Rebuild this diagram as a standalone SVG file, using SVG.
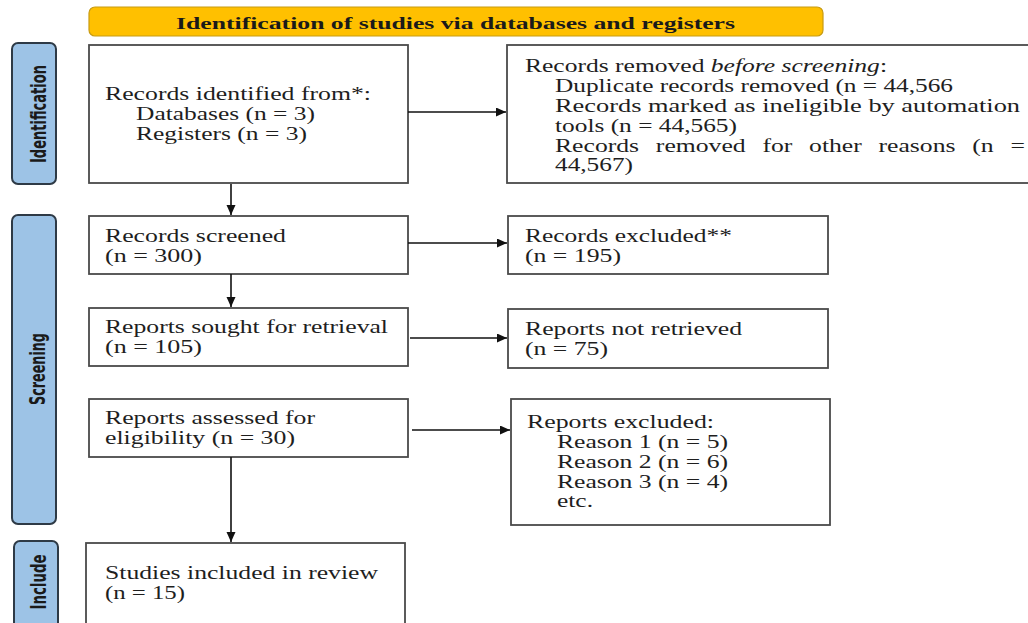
<svg xmlns="http://www.w3.org/2000/svg" width="1028" height="623" viewBox="0 0 1028 623">
<style>
.bg{fill:#ffffff}
.box{fill:#ffffff;stroke:#4a4a4a;stroke-width:1.8}
.side{fill:#9DC3E6;stroke:#2E3A46;stroke-width:2}
.hdr{fill:#FFC000;stroke:#C89B12;stroke-width:1.2}
.t{font-family:"Liberation Serif","Times New Roman",serif;font-size:18.6px;fill:#1e1e1e}
.h{font-family:"Liberation Serif","Times New Roman",serif;font-size:17.5px;font-weight:bold;fill:#1a1a1a}
.s{font-family:"Liberation Sans Narrow","DejaVu Sans Condensed","Liberation Sans",sans-serif;font-size:22px;font-weight:bold;fill:#1a1a1a}
.c{fill:none;stroke:#111;stroke-width:1.6}
</style>
<defs>
<marker id="ah" markerUnits="userSpaceOnUse" markerWidth="11" markerHeight="10" refX="10" refY="4.5" orient="auto">
<path d="M0,0 L10,4.5 L0,9 z" fill="#111"/>
</marker>
</defs>
<rect class="bg" x="0" y="0" width="1028" height="623"/>

<g id="header">
<rect class="hdr" x="89" y="7" width="734" height="29" rx="6"/>
<text class="h" x="176" y="29" textLength="559" lengthAdjust="spacingAndGlyphs">Identification of studies via databases and registers</text>
</g>

<g id="side_identification">
<rect class="side" x="12" y="43" width="44" height="141" rx="6"/>
<text class="s" transform="translate(46,114) rotate(-90)" text-anchor="middle" textLength="98" lengthAdjust="spacingAndGlyphs">Identification</text>
</g>
<g id="side_screening">
<rect class="side" x="12" y="215" width="44" height="309" rx="6"/>
<text class="s" transform="translate(45,369) rotate(-90)" text-anchor="middle" textLength="72" lengthAdjust="spacingAndGlyphs">Screening</text>
</g>
<g id="side_include">
<rect class="side" x="14" y="541" width="44" height="100" rx="6"/>
<text class="s" transform="translate(46,582) rotate(-90)" text-anchor="middle" textLength="55" lengthAdjust="spacingAndGlyphs">Include</text>
</g>

<g id="records_identified">
<rect class="box" x="89" y="45" width="319" height="138"/>
<text class="t" x="105" y="100" textLength="266" lengthAdjust="spacingAndGlyphs">Records identified from*:</text>
<text class="t" x="136" y="120" textLength="179" lengthAdjust="spacingAndGlyphs">Databases (n = 3)</text>
<text class="t" x="136" y="140" textLength="171" lengthAdjust="spacingAndGlyphs">Registers (n = 3)</text>
</g>

<g id="records_removed">
<rect class="box" x="507" y="45" width="540" height="138"/>
<text class="t" x="525" y="72" textLength="362" lengthAdjust="spacingAndGlyphs">Records removed <tspan font-style="italic">before screening</tspan>:</text>
<text class="t" x="555" y="92" textLength="398" lengthAdjust="spacingAndGlyphs">Duplicate records removed (n = 44,566</text>
<text class="t" x="555" y="112" textLength="465" lengthAdjust="spacingAndGlyphs">Records marked as ineligible by automation</text>
<text class="t" x="555" y="132" textLength="182" lengthAdjust="spacingAndGlyphs">tools (n = 44,565)</text>
<text class="t" transform="translate(555,152) scale(1.38,1)" word-spacing="7.5">Records removed for other reasons (n =</text>
<text class="t" x="555" y="171" textLength="78" lengthAdjust="spacingAndGlyphs">44,567)</text>
</g>

<g id="records_screened">
<rect class="box" x="89" y="216" width="319" height="58"/>
<text class="t" x="105" y="242" textLength="181" lengthAdjust="spacingAndGlyphs">Records screened</text>
<text class="t" x="105" y="262" textLength="97" lengthAdjust="spacingAndGlyphs">(n = 300)</text>
</g>

<g id="records_excluded">
<rect class="box" x="508" y="216" width="320" height="58"/>
<text class="t" x="525" y="242" textLength="207" lengthAdjust="spacingAndGlyphs">Records excluded**</text>
<text class="t" x="525" y="262" textLength="96" lengthAdjust="spacingAndGlyphs">(n = 195)</text>
</g>

<g id="reports_sought">
<rect class="box" x="89" y="308" width="319" height="58"/>
<text class="t" x="105" y="333" textLength="283" lengthAdjust="spacingAndGlyphs">Reports sought for retrieval</text>
<text class="t" x="105" y="353" textLength="97" lengthAdjust="spacingAndGlyphs">(n = 105)</text>
</g>

<g id="reports_not_retrieved">
<rect class="box" x="508" y="309" width="320" height="59"/>
<text class="t" x="525" y="335" textLength="217" lengthAdjust="spacingAndGlyphs">Reports not retrieved</text>
<text class="t" x="525" y="355" textLength="83" lengthAdjust="spacingAndGlyphs">(n = 75)</text>
</g>

<g id="reports_assessed">
<rect class="box" x="89" y="399" width="319" height="58"/>
<text class="t" x="105" y="424" textLength="210" lengthAdjust="spacingAndGlyphs">Reports assessed for</text>
<text class="t" x="105" y="444" textLength="190" lengthAdjust="spacingAndGlyphs">eligibility (n = 30)</text>
</g>

<g id="reports_excluded">
<rect class="box" x="511" y="399" width="319" height="126"/>
<text class="t" x="527" y="428" textLength="187" lengthAdjust="spacingAndGlyphs">Reports excluded:</text>
<text class="t" x="557" y="448" textLength="171" lengthAdjust="spacingAndGlyphs">Reason 1 (n = 5)</text>
<text class="t" x="557" y="468" textLength="171" lengthAdjust="spacingAndGlyphs">Reason 2 (n = 6)</text>
<text class="t" x="557" y="488" textLength="171" lengthAdjust="spacingAndGlyphs">Reason 3 (n = 4)</text>
<text class="t" x="557" y="507" textLength="36" lengthAdjust="spacingAndGlyphs">etc.</text>
</g>

<g id="studies_included">
<rect class="box" x="86" y="543" width="319" height="100"/>
<text class="t" x="105" y="579" textLength="273" lengthAdjust="spacingAndGlyphs">Studies included in review</text>
<text class="t" x="105" y="599" textLength="80" lengthAdjust="spacingAndGlyphs">(n = 15)</text>
</g>

<g id="connectors">
<line class="c" x1="231" y1="184" x2="231" y2="215" marker-end="url(#ah)"/>
<line class="c" x1="408" y1="112" x2="506" y2="112" marker-end="url(#ah)"/>
<line class="c" x1="408" y1="243" x2="507" y2="243" marker-end="url(#ah)"/>
<line class="c" x1="231" y1="274" x2="231" y2="307" marker-end="url(#ah)"/>
<line class="c" x1="410" y1="338" x2="507" y2="338" marker-end="url(#ah)"/>
<line class="c" x1="412" y1="430" x2="510" y2="430" marker-end="url(#ah)"/>
<line class="c" x1="231" y1="457" x2="231" y2="542" marker-end="url(#ah)"/>
</g>
</svg>
